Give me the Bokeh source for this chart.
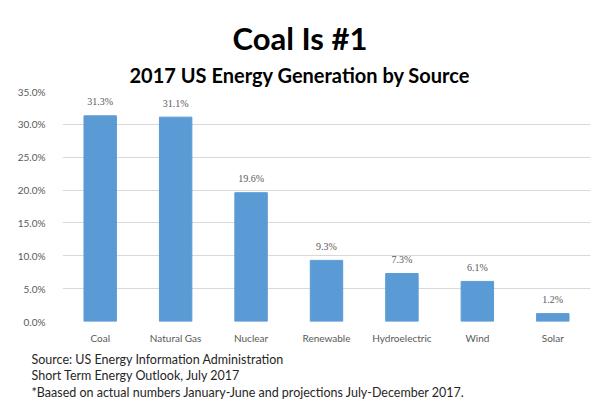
from bokeh.plotting import figure
from bokeh.models import ColumnDataSource, LabelSet, Title, PrintfTickFormatter, FixedTicker, Range1d
from bokeh.embed import file_html
from bokeh.resources import INLINE

categories = ["Coal", "Natural Gas", "Nuclear", "Renewable", "Hydroelectric", "Wind", "Solar"]
values = [31.3, 31.1, 19.6, 9.3, 7.3, 6.1, 1.2]
value_labels = ["31.3%", "31.1%", "19.6%", "9.3%", "7.3%", "6.1%", "1.2%"]
y_ticks = [0, 5, 10, 15, 20, 25, 30, 35]
title_text = "Coal Is #1"
subtitle_text = "2017 US Energy Generation by Source"
footer_lines = [
    "Source: US Energy Information Administration",
    "Short Term Energy Outlook, July 2017",
    "*Baased on actual numbers January-June and projections July-December 2017.",
]

FONT = "Lato"
GRAY = "#595959"

source = ColumnDataSource(dict(cat=categories, val=values, lab=value_labels))

p = figure(x_range=categories, y_range=Range1d(0, 35), width=598, height=407,
           output_backend="svg", toolbar_location=None,
           min_border_left=62, min_border_right=8, min_border_top=91, min_border_bottom=85)
p.outline_line_color = None
p.background_fill_color = "white"
p.border_fill_color = "white"

p.vbar(x="cat", top="val", width=0.43, source=source, color="#5B9BD5")

p.yaxis.ticker = FixedTicker(ticks=y_ticks)
p.yaxis.formatter = PrintfTickFormatter(format="%.1f%%")
for ax in (p.xaxis[0], p.yaxis[0]):
    ax.axis_line_color = None
    ax.major_tick_line_color = None
    ax.minor_tick_line_color = None
    ax.major_label_text_font = FONT
    ax.major_label_text_font_size = "10px"
    ax.major_label_text_color = GRAY
p.yaxis.major_label_standoff = 11
p.xaxis.major_label_standoff = 4
p.xgrid.grid_line_color = None
p.ygrid.grid_line_color = "#d9d9d9"
p.ygrid.ticker = FixedTicker(ticks=y_ticks)

labels = LabelSet(x="cat", y="val", text="lab", source=source, y_offset=14,
                  text_align="center", text_baseline="middle",
                  text_font=FONT, text_font_size="10px", text_color=GRAY)
p.add_layout(labels)

# main title (outermost), subtitle added after it (nearest the frame)
p.title.text = title_text
p.title.align = "left"
p.title.offset = 170
p.title.text_font = FONT
p.title.text_font_style = "bold"
p.title.text_font_size = "31px"
p.title.text_color = "#000000"
p.title.standoff = 0
p.add_layout(Title(text=subtitle_text, align="left", offset=67, text_font=FONT,
                   text_font_style="bold", text_font_size="20px", text_color="#000000",
                   standoff=9), "above")

p.add_layout(Title(text="\n".join(footer_lines), align="left", offset=-31, text_font=FONT,
                   text_font_style="normal", text_font_size="12.5px", text_line_height=1.12,
                   text_color="#262626", standoff=10, vertical_align="top"), "below")

open("out.html", "w").write(file_html(p, INLINE))
